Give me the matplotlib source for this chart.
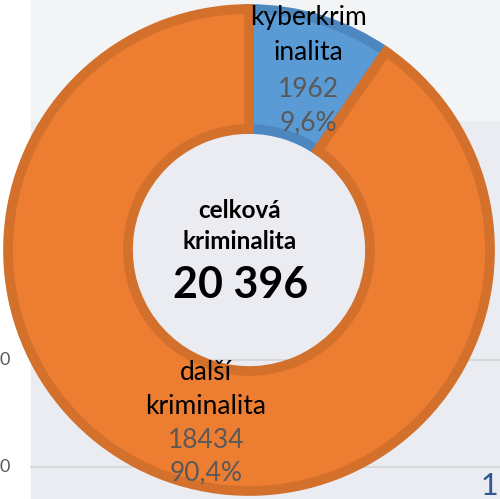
import matplotlib
matplotlib.use('Agg')
import matplotlib.pyplot as plt
from matplotlib.patches import Rectangle

plt.rcParams['font.family'] = ['Lato', 'DejaVu Sans']

labels = [["kyberkrim", "inalita"], ["další", "kriminalita"]]
values = [1962, 18434]
shares = ["9,6%", "90,4%"]
centre_title = ["celková", "kriminalita"]
total_label = "20 396"
fills = ["#5b9bd5", "#ed7d31"]
edges = ["#4d87c0", "#d2702c"]

H = 499


def py(y):
    # pixel row from the top -> data y
    return H - y


fig = plt.figure(figsize=(5.0, 4.99), dpi=100)
ax = fig.add_axes([0, 0, 1, 1])

# slide background behind the chart
ax.add_patch(Rectangle((31, 0), 469, H, color="#eaecf2", zorder=0))
ax.add_patch(Rectangle((31, py(120)), 469, 120, color="#f3f4f6", zorder=0))
# gridlines of the chart behind
for gy in [360, 467]:
    ax.plot([31, 500], [py(gy), py(gy)], color="#d6d6d6", lw=1.3, zorder=1)
    ax.text(10, py(gy), "0", ha='right', va='center', fontsize=13, color="#595959")
ax.text(481, py(472), "1", ha='left', va='top', fontsize=22, color="#2f5597")

wedges, _ = ax.pie(values, startangle=90, counterclock=False, colors=fills,
                   center=(249, py(250)), radius=241,
                   wedgeprops=dict(width=120, linewidth=7))
for w, ec in zip(wedges, edges):
    w.set_edgecolor(ec)
    w.set_zorder(2)
ax.set_aspect('equal')
ax.set_xlim(0, 500)
ax.set_ylim(0, H)
ax.axis('off')

# slice labels, one line at a time
black_lines = [(labels[0], 308, [17, 52]), (labels[1], 206, [372, 407])]
grey_lines = [([str(values[0]), shares[0]], 308, [89, 123]),
              ([str(values[1]), shares[1]], 206, [440, 473])]
for lines, x, ys in black_lines:
    for s, y in zip(lines, ys):
        ax.text(x, py(y), s, ha='center', va='center', fontsize=19,
                color="black", zorder=3)
for lines, x, ys in grey_lines:
    for s, y in zip(lines, ys):
        ax.text(x, py(y), s, ha='center', va='center', fontsize=19,
                color="#595959", zorder=3)

# centre
for s, y in zip(centre_title, [210, 241]):
    ax.text(240, py(y), s, ha='center', va='center', fontsize=17.5,
            fontweight='bold', color="black", zorder=3)
ax.text(241, py(285), total_label, ha='center', va='center', fontsize=31,
        fontweight='bold', color="black", zorder=3)

fig.savefig("out.png", dpi=100)
